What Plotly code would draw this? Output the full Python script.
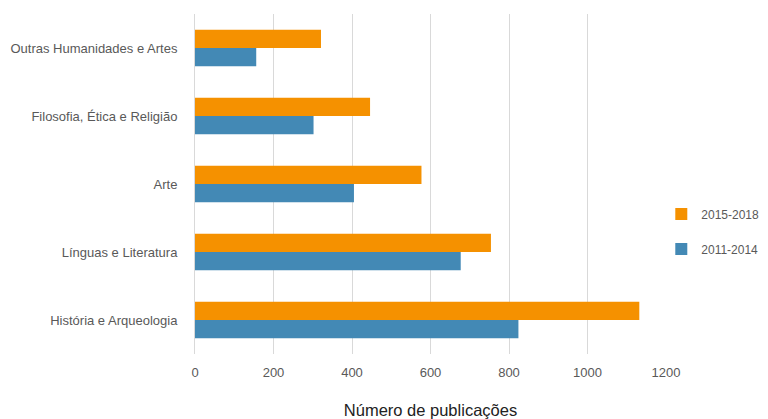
import plotly.graph_objects as go

# Scientific output by field (humanities), two periods
categories = [
    "História e Arqueologia",
    "Línguas e Literatura",
    "Arte",
    "Filosofia, Ética e Religião",
    "Outras Humanidades e Artes",
]
pubs_2011_2014 = [824, 677, 405, 302, 156]
pubs_2015_2018 = [1132, 754, 577, 446, 321]
x_ticks = [0, 200, 400, 600, 800, 1000, 1200]

BLUE = "#4389B5"
ORANGE = "#F59100"
TEXT = "#595959"
FONT = "Liberation Sans"

fig = go.Figure()
fig.add_trace(go.Bar(
    y=categories, x=pubs_2011_2014, orientation="h", name="2011-2014",
    marker=dict(color=BLUE, line=dict(width=0)), legendgroup="a", legendrank=2,
))
fig.add_trace(go.Bar(
    y=categories, x=pubs_2015_2018, orientation="h", name="2015-2018",
    marker=dict(color=ORANGE, line=dict(width=0)), legendgroup="b", legendrank=1,
))

fig.update_layout(
    width=768, height=419,
    margin=dict(l=195, r=102, t=14, b=65, autoexpand=False),
    paper_bgcolor="white", plot_bgcolor="white",
    barmode="group", bargap=0.46, bargroupgap=0,
    font=dict(family=FONT, size=13, color=TEXT),
    legend=dict(
        x=0.99, y=0.36, xanchor="left", yanchor="middle",
        traceorder="grouped", tracegroupgap=16,
        font=dict(family=FONT, size=12, color=TEXT),
        itemwidth=30,
    ),
    xaxis=dict(
        range=[0, 1200], tickvals=x_ticks, showgrid=True,
        gridcolor="#D9D9D9", gridwidth=1, zeroline=False,
        showline=False, ticks="", ticklabelstandoff=9,
        tickfont=dict(size=13, color=TEXT),
        title=dict(text="Número de publicações", standoff=25,
                   font=dict(family=FONT, size=16.5, color="#222222")),
    ),
    yaxis=dict(
        showgrid=False, zeroline=False, showline=True,
        linecolor="#D9D9D9", linewidth=1, ticks="",
        ticklabelstandoff=14, tickfont=dict(size=13, color=TEXT),
    ),
)

fig.write_html("out.html")
